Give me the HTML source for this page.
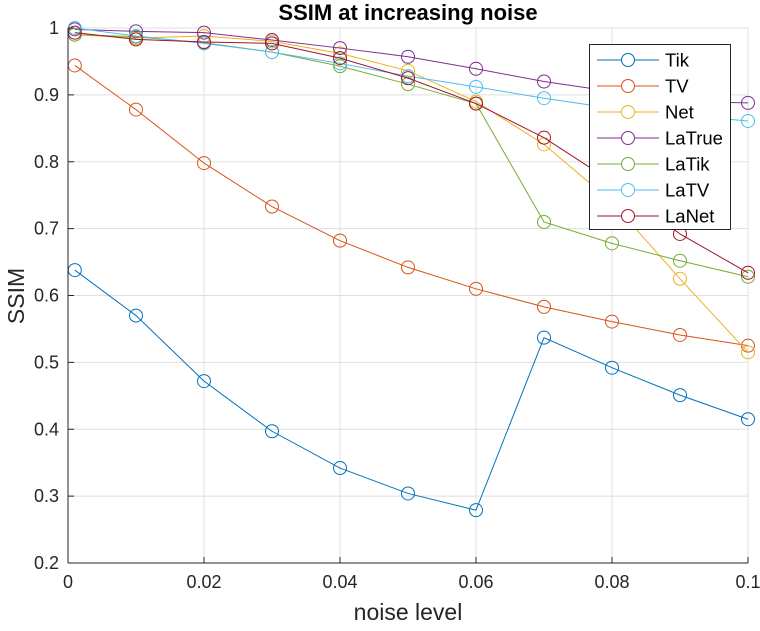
<!DOCTYPE html>
<html><head><meta charset="utf-8"><style>
body{margin:0;background:#fff;font-family:"Liberation Sans",Arial,sans-serif}
svg text{font-family:"Liberation Sans",Arial,sans-serif}
</style></head><body>
<svg id="chart" width="760" height="626" xmlns="http://www.w3.org/2000/svg">
<rect width="760" height="626" fill="#fff"/>
<g id="grid"></g><g id="series"></g><g id="axes"></g><g id="legend"></g>
</svg>
<script>
const xValues=[0.001,0.01,0.02,0.03,0.04,0.05,0.06,0.07,0.08,0.09,0.1];
const seriesNames=["Tik","TV","Net","LaTrue","LaTik","LaTV","LaNet"];
const seriesColors=["#0072BD","#D95319","#EDB120","#7E2F8E","#77AC30","#4DBEEE","#A2142F"];
const tik=[0.638,0.570,0.472,0.397,0.342,0.304,0.279,0.537,0.492,0.451,0.415];
const tv=[0.944,0.878,0.798,0.733,0.682,0.642,0.610,0.583,0.561,0.541,0.525];
const net=[0.990,0.985,0.988,0.980,0.962,0.936,0.890,0.826,0.740,0.625,0.515];
const laTrue=[0.998,0.995,0.993,0.982,0.970,0.957,0.939,0.920,0.905,0.890,0.888];
const laTik=[0.990,0.987,0.978,0.964,0.943,0.916,0.887,0.710,0.678,0.652,0.628];
const laTV=[1.000,0.988,0.977,0.964,0.947,0.928,0.912,0.895,0.880,0.870,0.861];
const laNet=[0.993,0.983,0.979,0.977,0.955,0.925,0.887,0.836,0.770,0.692,0.634];
const allSeries=[tik,tv,net,laTrue,laTik,laTV,laNet];
const xTicks=[0,0.02,0.04,0.06,0.08,0.1];
const xTickLabels=["0","0.02","0.04","0.06","0.08","0.1"];
const yTicks=[0.2,0.3,0.4,0.5,0.6,0.7,0.8,0.9,1];
const yTickLabels=["0.2","0.3","0.4","0.5","0.6","0.7","0.8","0.9","1"];

const L=68,R=748,T=28,B=563;
const sx=v=>L+(v-0)/(0.1-0)*(R-L);
const sy=v=>B-(v-0.2)/(1-0.2)*(B-T);
const NS="http://www.w3.org/2000/svg";
function mk(tag,attrs,parent){const e=document.createElementNS(NS,tag);for(const k in attrs)e.setAttribute(k,attrs[k]);parent.appendChild(e);return e;}
const grid=document.getElementById('grid'),axes=document.getElementById('axes'),ser=document.getElementById('series'),leg=document.getElementById('legend'),svg=document.getElementById('chart');

xTicks.forEach((t,i)=>{
 const g=mk('line',{x1:sx(t),x2:sx(t),y1:T,y2:B,stroke:'#dfdfdf','stroke-width':1},grid);
 
 
 const tk=mk('line',{x1:sx(t),x2:sx(t),y1:B,y2:B-6,stroke:'#262626'},axes);
 
 
 const tx=mk('text',{x:sx(t),y:B+25,'text-anchor':'middle','font-size':18,fill:'#262626'},axes);
 tx.textContent=xTickLabels[i];
 
 
});
yTicks.forEach((t,i)=>{
 const g=mk('line',{x1:L,x2:R,y1:sy(t),y2:sy(t),stroke:'#dfdfdf','stroke-width':1},grid);
 
 
 const tk=mk('line',{x1:L,x2:L+6,y1:sy(t),y2:sy(t),stroke:'#262626'},axes);
 
 
 const tx=mk('text',{x:L-9,y:sy(t)+6,'text-anchor':'end','font-size':18,fill:'#262626'},axes);
 tx.textContent=yTickLabels[i];
 
 
});
const xa=mk('line',{x1:L,x2:R,y1:B,y2:B,stroke:'#262626'},axes);


const ya=mk('line',{x1:L,x2:L,y1:T,y2:B,stroke:'#262626'},axes);



allSeries.forEach((vals,si)=>{
 const g=mk('g',{},ser);
 
 
 const pts=vals.map((v,i)=>sx(xValues[i])+','+sy(v)).join(' ');
 const pl=mk('polyline',{points:pts,fill:'none',stroke:seriesColors[si],'stroke-width':1},g);
 
 
 vals.forEach((v,i)=>{
  const c=mk('circle',{cx:sx(xValues[i]),cy:sy(v),r:6.5,fill:'none',stroke:seriesColors[si],'stroke-width':1},g);
  
  
 });
});

const title=mk('text',{x:408,y:20,'text-anchor':'middle','font-size':22,'font-weight':'bold',fill:'#000'},svg);
title.textContent='SSIM at increasing noise';


const xl=mk('text',{x:408,y:620,'text-anchor':'middle','font-size':23,fill:'#262626'},svg);
xl.textContent='noise level';


const yl=mk('text',{x:0,y:0,'text-anchor':'middle','font-size':23,fill:'#262626',transform:'translate(24,296) rotate(-90)'},svg);
yl.textContent='SSIM';



const lb=mk('rect',{x:589.5,y:44.5,width:141,height:185,fill:'#fff',stroke:'#262626','stroke-width':1},leg);


seriesNames.forEach((n,i)=>{
 const y=60+i*26;
 const g=mk('g',{},leg);
 
 
 mk('line',{x1:597,x2:659,y1:y,y2:y,stroke:seriesColors[i]},g);
 mk('circle',{cx:628,cy:y,r:6.5,fill:'#fff',stroke:seriesColors[i]},g);
 const t=mk('text',{x:665,y:y+6.5,'font-size':18.5,fill:'#000'},g);
 t.textContent=n;
});
</script>
</body></html>
